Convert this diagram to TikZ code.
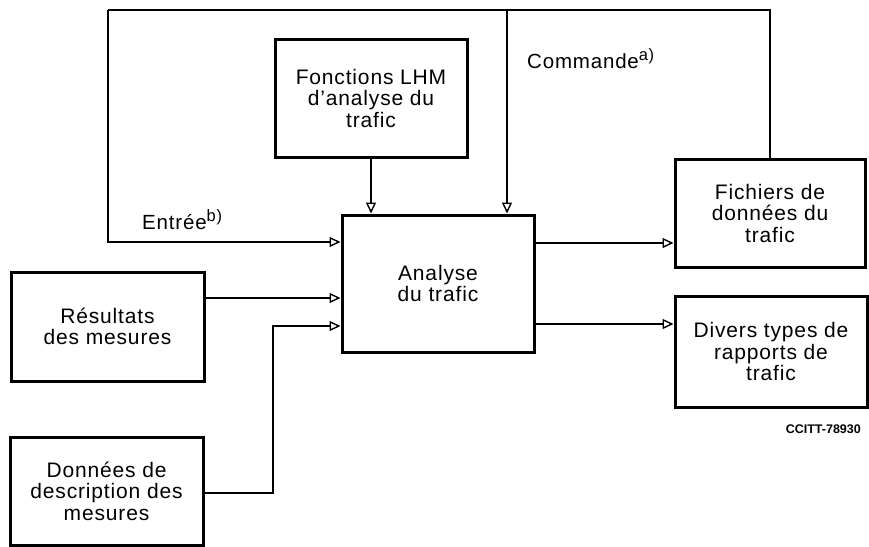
\documentclass[tikz,border=0pt]{standalone}
\usepackage{fontspec}
\setmainfont{Liberation Sans}
\newfontfamily\diagfont{Liberation Sans}[LetterSpace=4]
\usetikzlibrary{arrows.meta}
\begin{document}
\begin{tikzpicture}[x=1pt,y=-1pt,
  box/.style={draw, line width=3pt, align=center, inner sep=0pt,
    font=\diagfont\fontsize{21}{21.5}\selectfont},
  conn/.style={line width=1.7pt},
  arr/.style={conn, -{Triangle[open,length=11pt,width=10pt,line width=1.4pt]}},
  lbl/.style={font=\diagfont\fontsize{20.5}{21}\selectfont, inner sep=0pt}]
\useasboundingbox[fill=white] (0,0) rectangle (869,546);

\node[box, minimum width=192pt, minimum height=118pt] (fonc) at (371,98) {Fonctions LHM\\d’analyse du\\trafic};
\node[box, minimum width=192pt, minimum height=137pt] (ana) at (438,283.5) {Analyse\\du trafic};
\node[box, minimum width=190pt, minimum height=108pt] (fich) at (770,213) {Fichiers de\\données du\\trafic};
\node[box, minimum width=192pt, minimum height=111pt] (div) at (771,351.5) {Divers types de\\rapports de\\trafic};
\node[box, minimum width=193pt, minimum height=109pt] (res) at (107.5,326.5) {Résultats\\des mesures};
\node[box, minimum width=193pt, minimum height=108pt] (don) at (106.5,491) {Données de\\description des\\mesures};

\coordinate (tl) at (108,10);
\coordinate (tc) at (507,10);
\coordinate (yE) at (0,242);
\coordinate (yR) at (0,298);
\coordinate (yD) at (0,326);
\coordinate (yF) at (0,243);
\coordinate (yV) at (0,324);
\coordinate (yDon) at (0,493);
\coordinate (xD) at (273,0);

\draw[conn] (fich.north) |- (tl);
\draw[arr] (tl) |- (ana.west |- yE);
\draw[arr] (tc) -- (tc |- ana.north);
\draw[arr] (fonc.south) -- (fonc.south |- ana.north);
\draw[arr] (res.east |- yR) -- (ana.west |- yR);
\draw[arr] (don.east |- yDon) -| (xD |- yD) -- (ana.west |- yD);
\draw[arr] (ana.east |- yF) -- (fich.west |- yF);
\draw[arr] (ana.east |- yV) -- (div.west |- yV);

\node[lbl, anchor=base west] (entlbl) at (142,229) {Entrée\raisebox{0.38em}{\fontsize{16.5}{16}\selectfont b)}};
\node[lbl, anchor=base west] (cmdlbl) at (527,68) {Commande\raisebox{0.38em}{\fontsize{16.5}{16}\selectfont a)}};
\node[font=\bfseries\fontsize{12.5}{12.5}\selectfont, anchor=base east, inner sep=0pt] (ref) at (861,433) {CCITT-78930};
\end{tikzpicture}
\end{document}
